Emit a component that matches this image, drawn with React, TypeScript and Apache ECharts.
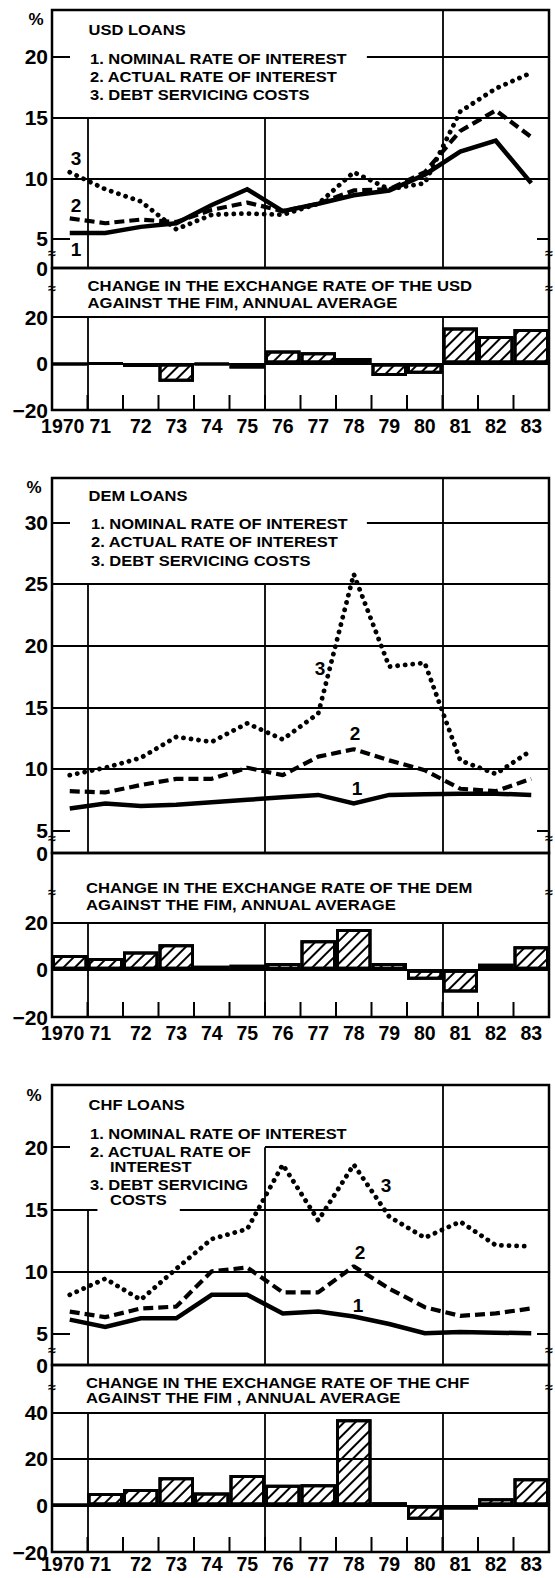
import React, { useEffect, useRef } from 'react';
import * as echarts from 'echarts';

const years = ['1970', '71', '72', '73', '74', '75', '76', '77', '78', '79', '80', '81', '82', '83'];

// USD loans (%)
const usdNominal = [5.5, 5.5, 6.0, 6.3, 7.8, 9.1, 7.3, 7.9, 8.6, 9.0, 10.3, 12.2, 13.1, 9.6];
const usdActual = [6.7, 6.3, 6.6, 6.4, 7.4, 8.0, 7.3, 7.9, 9.0, 9.1, 10.5, 13.9, 15.6, 13.4];
const usdDebt = [10.5, 9.1, 8.1, 5.8, 7.0, 7.1, 7.0, 7.9, 10.5, 9.1, 9.6, 15.5, 17.4, 18.7];
const usdFx = [-0.5, 0, -1.5, -7.9, -0.4, -2.1, 5.6, 4.8, 2.4, -5.4, -4.4, 15.5, 11.8, 14.8];

// DEM loans (%)
const demNominal = [6.8, 7.2, 7.0, 7.1, 7.3, 7.5, 7.7, 7.9, 7.2, 7.9, 7.95, 8.0, 8.0, 7.9];
const demActual = [8.2, 8.1, 8.7, 9.2, 9.2, 10.1, 9.5, 11.0, 11.6, 10.7, 9.9, 8.4, 8.2, 9.2];
const demDebt = [9.5, 10.1, 10.9, 12.6, 12.2, 13.7, 12.4, 14.5, 25.8, 18.3, 18.6, 10.7, 9.6, 11.5];
const demFx = [6.2, 4.9, 7.7, 10.8, 1.7, 2.1, 2.8, 12.4, 17.2, 2.8, -4.2, -9.6, 2.5, 9.9];

// CHF loans (%)
const chfNominal = [6.1, 5.5, 6.2, 6.2, 8.1, 8.1, 6.6, 6.75, 6.35, 5.75, 5.0, 5.1, 5.05, 5.0];
const chfActual = [6.75, 6.3, 7.0, 7.15, 10.0, 10.3, 8.3, 8.3, 10.4, 8.6, 7.1, 6.4, 6.6, 7.0];
const chfDebt = [8.1, 9.4, 7.7, 10.2, 12.6, 13.4, 18.6, 14.1, 18.6, 14.4, 12.7, 14.0, 12.1, 12.0];
const chfFx = [0.3, 5.3, 7.1, 12.1, 5.6, 13.1, 8.9, 9.1, 37.0, 1.4, -6.1, -1.8, 3.1, 11.7];

const lineLabels = [5, 10, 15, 20];
const lineLabelsDem = [5, 10, 15, 20, 25, 30];
const barLabels = [-20, 0, 20];
const barLabelsChf = [-20, 0, 20, 40];

const FONT = '"Liberation Sans", Arial, Helvetica, sans-serif';

type Seg = [number, number, number, number];

const L = -0.5;
const R = 13.5;

const panels = [
  {
    nominal: usdNominal, actual: usdActual, debt: usdDebt, fx: usdFx,
    lg: { top: 10, height: 258, min: 2.61, max: 23.87, labels: lineLabels, ticks: [5, 20] },
    bg: { top: 268, height: 142, min: -20, max: 41.08, labels: barLabels, margin: 6 },
    lineSegs: [[L, 15, R, 15], [L, 10, R, 10], [8.37, 20, R, 20], [0.5, 2.61, 0.5, 15], [5.5, 2.61, 5.5, 15], [10.5, 2.61, 10.5, 23.87]] as Seg[],
    barSegs: [[L, 20, R, 20], [L, 0, R, 0], [0.5, -20, 0.5, 20], [5.5, -20, 5.5, 20], [10.5, -20, 10.5, 20]] as Seg[],
    percent: [36, 19],
    title: ['USD LOANS', 88.6, 30],
    legend: [['1. NOMINAL RATE OF INTEREST', 90, 58.3], ['2. ACTUAL RATE OF INTEREST', 90, 76.7], ['3. DEBT SERVICING COSTS', 90, 95]],
    barTitle: [['CHANGE IN THE EXCHANGE RATE OF THE USD', 87.6, 286], ['AGAINST THE FIM, ANNUAL AVERAGE', 87.6, 303]],
    nums: [['3', 76, 158], ['2', 76, 205], ['1', 76, 249]],
    breaks: [253, 288],
  },
  {
    nominal: demNominal, actual: demActual, debt: demDebt, fx: demFx,
    lg: { top: 478, height: 375, min: 3.19, max: 33.59, labels: lineLabelsDem, ticks: [5, 30] },
    bg: { top: 853, height: 164, min: -20, max: 49.34, labels: barLabels, margin: 6 },
    lineSegs: [[L, 25, R, 25], [L, 20, R, 20], [L, 15, R, 15], [L, 10, R, 10], [8.37, 30, R, 30], [0.5, 3.19, 0.5, 25], [5.5, 3.19, 5.5, 25], [10.5, 3.19, 10.5, 33.59]] as Seg[],
    barSegs: [[L, 20, R, 20], [L, 0, R, 0], [0.5, -20, 0.5, 20], [5.5, -20, 5.5, 20], [10.5, -20, 10.5, 20]] as Seg[],
    percent: [34, 487],
    title: ['DEM LOANS', 88.6, 496],
    legend: [['1. NOMINAL RATE OF INTEREST', 91, 523.3], ['2. ACTUAL RATE OF INTEREST', 91, 541.7], ['3. DEBT SERVICING COSTS', 91, 560.7]],
    barTitle: [['CHANGE IN THE EXCHANGE RATE OF THE DEM', 86, 888], ['AGAINST THE FIM, ANNUAL AVERAGE', 86, 905]],
    nums: [['3', 320, 668], ['2', 355, 733], ['1', 357, 788]],
    breaks: [838, 892],
  },
  {
    nominal: chfNominal, actual: chfActual, debt: chfDebt, fx: chfFx,
    lg: { top: 1085, height: 280, min: 2.44, max: 25.02, labels: lineLabels, ticks: [5, 20] },
    bg: { top: 1365, height: 187, min: -20, max: 60.3, labels: barLabelsChf, margin: 2 },
    lineSegs: [[L, 15, 0.78, 15], [3.1, 15, R, 15], [L, 10, R, 10], [5.5, 20, R, 20], [0.5, 2.44, 0.5, 15], [5.5, 2.44, 5.5, 20], [10.5, 2.44, 10.5, 25.02]] as Seg[],
    barSegs: [[L, 40, R, 40], [L, 20, R, 20], [L, 0, R, 0], [0.5, -20, 0.5, 40], [5.5, -20, 5.5, 40], [10.5, -20, 10.5, 40]] as Seg[],
    percent: [34, 1095],
    title: ['CHF LOANS', 88.6, 1105],
    legend: [['1. NOMINAL RATE OF INTEREST', 90, 1133.3], ['2. ACTUAL RATE OF', 90, 1151.7], ['INTEREST', 110, 1166.7], ['3. DEBT SERVICING', 90, 1185], ['COSTS', 110, 1200]],
    barTitle: [['CHANGE IN THE EXCHANGE RATE OF THE CHF', 86, 1383], ['AGAINST THE FIM , ANNUAL AVERAGE', 86, 1398]],
    nums: [['3', 386, 1185], ['2', 360, 1252], ['1', 358, 1305]],
    breaks: [1350, 1387],
  },
];

const W = 555;
const GRID_LEFT = 52;
const GRID_RIGHT = 6;
const X_TICK_PX = 15;

function txt(text: string, x: number, y: number, size: number, scaleX = 1, align = 'left') {
  return {
    type: 'text', x, y, scaleX, z: 20,
    style: {
      text, fontSize: size, fontWeight: 'bold', fontFamily: FONT, fill: '#000',
      textAlign: align, textVerticalAlign: 'middle',
    },
  };
}

function buildOption() {
  const grid: any[] = [];
  const xAxis: any[] = [];
  const yAxis: any[] = [];
  const series: any[] = [];
  const graphic: any[] = [];

  const segLines = (segs: Seg[]) => segs.map(([x1, y1, x2, y2]) => [{ coord: [x1, y1] }, { coord: [x2, y2] }]);
  const helper = (xi: number, yi: number, segs: Seg[], yMin: number) => ({
    type: 'line', xAxisIndex: xi, yAxisIndex: yi, data: [[L, yMin]], showSymbol: false, symbol: 'none',
    lineStyle: { width: 0, opacity: 0 }, silent: true, z: 3,
    markLine: {
      silent: true, symbol: ['none', 'none'], label: { show: false }, animation: false,
      lineStyle: { color: '#000', width: 1.8, type: 'solid' },
      data: segLines(segs),
    },
  });

  // boundaries between year bands, in band-index units
  const boundaries = years.slice(1).map((_, k) => k + 0.5);

  panels.forEach((p) => {
    const gL = grid.length;
    grid.push({ left: GRID_LEFT, right: GRID_RIGHT, top: p.lg.top, height: p.lg.height, show: true, borderColor: '#000', borderWidth: 2.5 });
    const gB = grid.length;
    grid.push({ left: GRID_LEFT, right: GRID_RIGHT, top: p.bg.top, height: p.bg.height, show: true, borderColor: '#000', borderWidth: 2.5 });

    const xL = xAxis.length;
    xAxis.push({ type: 'value', gridIndex: gL, min: L, max: R, show: false, axisLine: { onZero: false } });
    const xC = xAxis.length;
    xAxis.push({
      type: 'category', gridIndex: gB, data: years, boundaryGap: true, position: 'bottom',
      axisLine: { show: false, onZero: false },
      axisTick: { show: false },
      axisLabel: {
        interval: 0, hideOverlap: false, margin: p.bg.margin, color: '#000', fontSize: 19.5, fontWeight: 'bold', fontFamily: FONT,
        formatter: (v: string, i: number) => (i === 0 ? '{a|' + v + '}' : i === 1 ? '{b|' + v + '}' : v),
        rich: {
          a: { fontSize: 19.5, fontWeight: 'bold', fontFamily: FONT, color: '#000', padding: [0, 14, 0, 0] },
          b: { fontSize: 19.5, fontWeight: 'bold', fontFamily: FONT, color: '#000', padding: [0, 10, 0, 0] },
        },
      },
      splitLine: { show: false },
    });
    const xB = xAxis.length;
    xAxis.push({ type: 'value', gridIndex: gB, min: L, max: R, show: false, position: 'top', axisLine: { onZero: false } });

    const yL = yAxis.length;
    yAxis.push({
      type: 'value', gridIndex: gL, min: p.lg.min, max: p.lg.max, position: 'left',
      axisLine: { show: false, onZero: false }, splitLine: { show: false },
      axisTick: { show: true, inside: true, length: 18, customValues: p.lg.ticks, lineStyle: { color: '#000', width: 2 } },
      axisLabel: {
        customValues: [p.lg.min, ...p.lg.labels], showMinLabel: true, margin: 4,
        color: '#000', fontSize: 21, fontWeight: 'bold', fontFamily: FONT,
        formatter: (v: number) => (v < 4 ? '0' : String(Math.round(v))),
      },
    });
    yAxis.push({
      type: 'value', gridIndex: gL, min: p.lg.min, max: p.lg.max, position: 'right',
      axisLine: { show: false, onZero: false }, splitLine: { show: false }, axisLabel: { show: false },
      axisTick: { show: true, inside: true, length: 12, customValues: [5], lineStyle: { color: '#000', width: 2 } },
    });
    const yB = yAxis.length;
    yAxis.push({
      type: 'value', gridIndex: gB, min: p.bg.min, max: p.bg.max, position: 'left',
      axisLine: { show: false, onZero: false }, splitLine: { show: false }, axisTick: { show: false },
      axisLabel: {
        customValues: p.bg.labels, margin: 4,
        color: '#000', fontSize: 21, fontWeight: 'bold', fontFamily: FONT,
        formatter: (v: number) => (v < 0 ? '\u2212' + Math.abs(v) : String(v)),
      },
    });

    series.push(helper(xL, yL, p.lineSegs, p.lg.min));
    series.push(helper(xB, yB, p.barSegs, p.bg.min));

    // inward year ticks rising from the bottom frame at each band boundary
    series.push({
      type: 'custom', xAxisIndex: xB, yAxisIndex: yB, silent: true, z: 12, clip: false,
      data: boundaries.map((b) => [b, p.bg.min]),
      renderItem: (_params: any, api: any) => {
        const pt = api.coord([api.value(0), api.value(1)]);
        return {
          type: 'line', z2: 100,
          shape: { x1: pt[0], y1: pt[1], x2: pt[0], y2: pt[1] - X_TICK_PX },
          style: { stroke: '#000', lineWidth: 2 },
        };
      },
    });

    series.push({
      type: 'bar', xAxisIndex: xC, yAxisIndex: yB, data: p.fx, barCategoryGap: '0%', z: 4,
      itemStyle: {
        color: '#fff', borderColor: '#000', borderWidth: 3,
        decal: {
          symbol: 'rect', symbolSize: 1, color: '#000', backgroundColor: '#fff',
          dashArrayX: [1, 0], dashArrayY: [1.6, 6], rotation: -Math.PI / 4,
        },
      },
    });

    const pts = (arr: number[]) => arr.map((v, i) => [i, v]);
    series.push({
      type: 'line', xAxisIndex: xL, yAxisIndex: yL, data: pts(p.nominal), showSymbol: false, symbol: 'none', z: 6,
      lineStyle: { color: '#000', width: 4.5, type: 'solid', join: 'miter' },
    });
    series.push({
      type: 'line', xAxisIndex: xL, yAxisIndex: yL, data: pts(p.actual), showSymbol: false, symbol: 'none', z: 7,
      lineStyle: { color: '#000', width: 4.2, type: [10, 5] },
    });
    series.push({
      type: 'line', xAxisIndex: xL, yAxisIndex: yL, data: pts(p.debt), showSymbol: false, symbol: 'none', z: 8,
      lineStyle: { color: '#000', width: 4.8, type: [0.1, 7.5], cap: 'round' },
    });

    graphic.push(txt('%', p.percent[0] as number, p.percent[1] as number, 17, 1, 'center'));
    graphic.push(txt(p.title[0] as string, p.title[1] as number, p.title[2] as number, 15, 1.1));
    p.legend.forEach((l) => graphic.push(txt(l[0] as string, l[1] as number, l[2] as number, 15, 1.1)));
    p.barTitle.forEach((l) => graphic.push(txt(l[0] as string, l[1] as number, l[2] as number, 14, 1.19)));
    p.nums.forEach((l) => graphic.push(txt(l[0] as string, l[1] as number, l[2] as number, 19, 1, 'center')));
    p.breaks.forEach((yb) => {
      graphic.push(txt('\u2248', GRID_LEFT, yb, 14, 1, 'center'));
      graphic.push(txt('\u2248', W - GRID_RIGHT, yb, 14, 1, 'center'));
    });
  });

  return {
    animation: false,
    backgroundColor: '#fff',
    grid, xAxis, yAxis, series, graphic,
  };
}

export default function App() {
  const ref = useRef<HTMLDivElement>(null);
  useEffect(() => {
    if (!ref.current) return;
    const chart = echarts.init(ref.current, undefined, { renderer: 'svg' });
    chart.setOption(buildOption() as any);
    return () => chart.dispose();
  }, []);
  return <div ref={ref} style={{ position: 'absolute', left: 0, top: 0, width: W, height: 1578, background: '#fff' }} />;
}
